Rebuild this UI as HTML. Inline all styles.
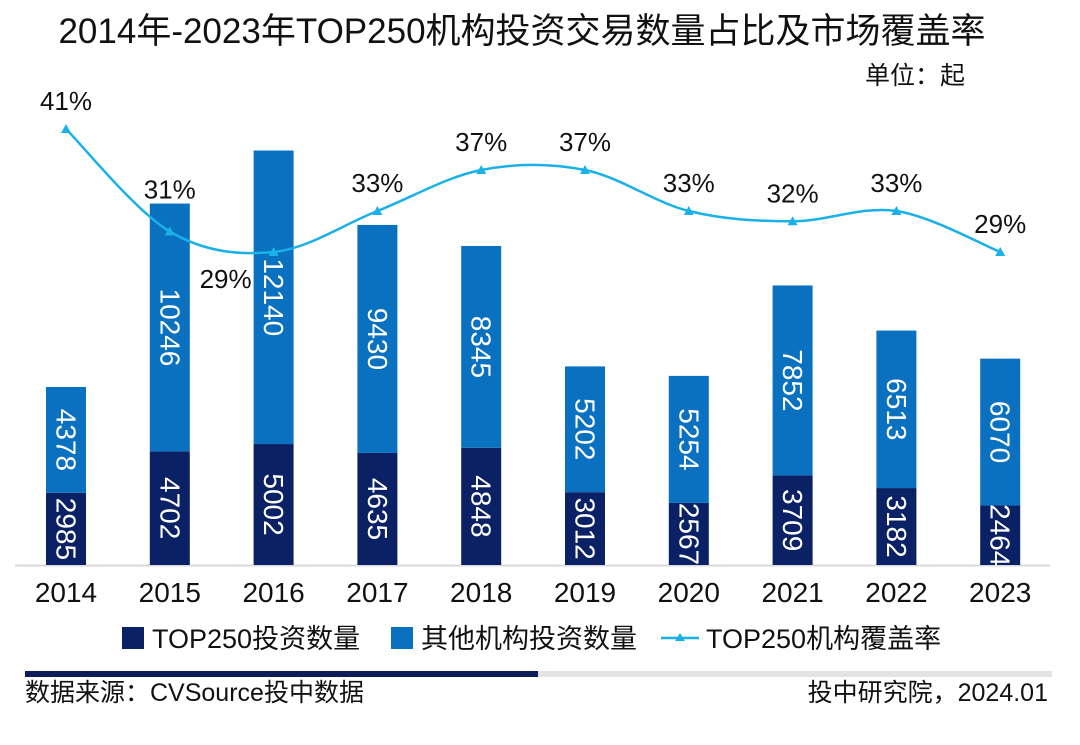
<!DOCTYPE html>
<html><head><meta charset="utf-8"><style>
body{margin:0;background:#fff;}
svg text{font-family:"Liberation Sans","Noto Sans CJK SC",sans-serif;}
</style></head><body>
<svg width="1080" height="740" viewBox="0 0 1080 740">
<text x="522" y="43" font-size="35" text-anchor="middle" fill="#111">2014年-2023年TOP250机构投资交易数量占比及市场覆盖率</text>
<text x="965" y="84" font-size="25" text-anchor="end" fill="#111">单位：起</text>
<line x1="15" y1="565.5" x2="1050" y2="565.5" stroke="#d9d9d9" stroke-width="2"/>
<g id="bars"></g><g id="line"></g><g id="xlabels"></g>
<g>
<rect x="122" y="627" width="22" height="22" fill="#0b2166"/>
<text x="152" y="648" font-size="27" fill="#111">TOP250投资数量</text>
<rect x="391" y="627" width="22" height="22" fill="#0a70c0"/>
<text x="421" y="648" font-size="27" fill="#111">其他机构投资数量</text>
<line x1="661" y1="638" x2="699" y2="638" stroke="#1ab0e8" stroke-width="2.5"/>
<path d="M680 633 L685 641 L675 641Z" fill="#1ab0e8"/>
<text x="706" y="648" font-size="27" fill="#111">TOP250机构覆盖率</text>
</g>
<rect x="25" y="671" width="513" height="6" fill="#0b1d5c"/>
<rect x="538" y="671" width="514" height="6" fill="#e3e3e3"/>
<text x="25" y="701" font-size="25" fill="#111">数据来源：CVSource投中数据</text>
<text x="1048" y="701" font-size="25" text-anchor="end" fill="#111">投中研究院，2024.01</text>
</svg>
<script>
const years=["2014","2015","2016","2017","2018","2019","2020","2021","2022","2023"];
const top250=[2985,4702,5002,4635,4848,3012,2567,3709,3182,2464];
const others=[4378,10246,12140,9430,8345,5202,5254,7852,6513,6070];
const coverage=[41,31,29,33,37,37,33,32,33,29];
const NS="http://www.w3.org/2000/svg";
const x=i=>66+i*103.8;
const y=v=>565-v*0.02418;
const yp=p=>129+(41-p)*10.25;
function el(t,a,parent){const e=document.createElementNS(NS,t);for(const k in a)e.setAttribute(k,a[k]);parent.appendChild(e);return e;}
const gb=document.getElementById('bars'),gl=document.getElementById('line'),gx=document.getElementById('xlabels');
function vlabel(txt,cx,cy){const t=el('text',{x:0,y:0,transform:`translate(${cx},${cy}) rotate(90)`,'font-size':28,fill:'#fff','text-anchor':'middle','dominant-baseline':'central'},gb);t.textContent=txt;

}
years.forEach((yr,i)=>{
 const y0=y(top250[i]),y1=y(top250[i]+others[i]);
 const r1=el('rect',{x:x(i)-20,y:y0,width:40,height:565-y0,fill:'#0b2166'},gb);
 
 
 const r2=el('rect',{x:x(i)-20,y:y1,width:40,height:y0-y1,fill:'#0a70c0'},gb);
 
 
 vlabel(String(top250[i]),x(i),(y0+565)/2);
 vlabel(String(others[i]),x(i),(y0+y1)/2);
 const t=el('text',{x:x(i),y:602,'font-size':28,fill:'#111','text-anchor':'middle'},gx);t.textContent=yr;
 
 
});
const pts=coverage.map((p,i)=>[x(i),yp(p)]);
let d=`M${pts[0][0]},${pts[0][1]}`;
for(let i=0;i<pts.length-1;i++){const p0=pts[i-1]||pts[i],p1=pts[i],p2=pts[i+1],p3=pts[i+2]||p2;
 d+=` C${p1[0]+(p2[0]-p0[0])/6},${p1[1]+(p2[1]-p0[1])/6} ${p2[0]-(p3[0]-p1[0])/6},${p2[1]-(p3[1]-p1[1])/6} ${p2[0]},${p2[1]}`;}
const ln=el('path',{d:d,fill:'none',stroke:'#1ab0e8','stroke-width':2.5},gl);


pts.forEach((p,i)=>{
 const m=el('path',{d:`M${p[0]},${p[1]-5} L${p[0]+5},${p[1]+4} L${p[0]-5},${p[1]+4}Z`,fill:'#1ab0e8'},gl);
 
 
 const special=i===2;
 const dy=special?36:(i===1?-33:-19);
 const t=el('text',{x:special?p[0]-48:p[0],y:p[1]+dy,'font-size':26,fill:'#111','text-anchor':'middle'},gl);
 t.textContent=coverage[i]+'%';
 
 
});
</script>
</body></html>
